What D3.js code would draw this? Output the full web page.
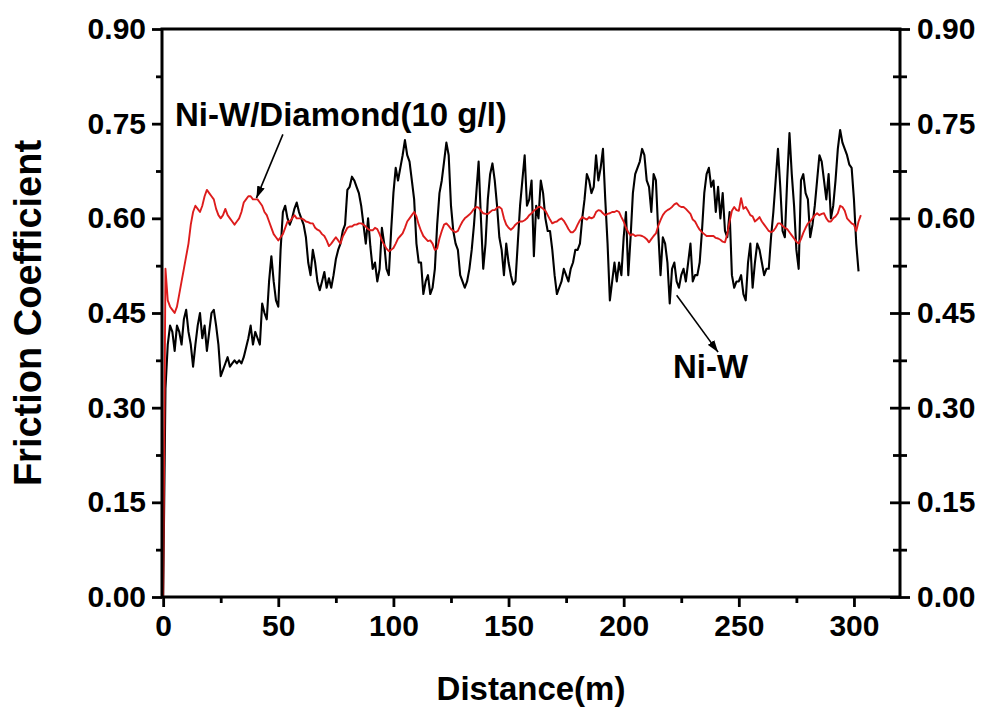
<!DOCTYPE html>
<html>
<head>
<meta charset="utf-8">
<script src="https://cdn.jsdelivr.net/npm/d3@7"></script>
<style>
  html, body { margin: 0; padding: 0; background: #fff; }
  svg { display: block; }
  text { font-family: "Liberation Sans", Arial, sans-serif; font-weight: bold; fill: #000; }
</style>
</head>
<body>
<svg id="chart" width="990" height="713"></svg>
<script>
// Sliding distance step (m) between successive friction readings
const stepMeters = 1;

// Friction coefficient of the plain Ni-W coating, one reading per metre from 0 m
const niW = [
  0.00, 0.33, 0.40, 0.43, 0.42, 0.39, 0.43, 0.42, 0.40, 0.44,
  0.455, 0.42, 0.40, 0.365, 0.40, 0.43, 0.45, 0.41, 0.43, 0.39,
  0.42, 0.45, 0.455, 0.43, 0.40, 0.35, 0.36, 0.37, 0.38, 0.365,
  0.37, 0.375, 0.37, 0.375, 0.37, 0.38, 0.395, 0.41, 0.43, 0.40,
  0.42, 0.41, 0.40, 0.465, 0.45, 0.44, 0.50, 0.54, 0.50, 0.47,
  0.46, 0.55, 0.61, 0.62, 0.60, 0.59, 0.60, 0.615, 0.625, 0.61,
  0.60, 0.59, 0.57, 0.53, 0.51, 0.55, 0.53, 0.50, 0.486, 0.50,
  0.515, 0.49, 0.505, 0.49, 0.51, 0.535, 0.55, 0.56, 0.58, 0.59,
  0.645, 0.65, 0.666, 0.66, 0.65, 0.64, 0.62, 0.59, 0.56, 0.60,
  0.555, 0.52, 0.53, 0.50, 0.52, 0.585, 0.56, 0.52, 0.51, 0.58,
  0.64, 0.68, 0.66, 0.68, 0.70, 0.724, 0.70, 0.69, 0.66, 0.63,
  0.56, 0.53, 0.53, 0.48, 0.50, 0.51, 0.48, 0.49, 0.52, 0.59,
  0.64, 0.66, 0.69, 0.72, 0.70, 0.62, 0.58, 0.56, 0.55, 0.51,
  0.50, 0.49, 0.50, 0.52, 0.55, 0.59, 0.64, 0.69, 0.60, 0.52,
  0.56, 0.63, 0.67, 0.687, 0.66, 0.62, 0.57, 0.55, 0.51, 0.56,
  0.53, 0.51, 0.495, 0.50, 0.56, 0.62, 0.66, 0.70, 0.62, 0.63,
  0.66, 0.54, 0.62, 0.60, 0.66, 0.64, 0.60, 0.58, 0.58, 0.55,
  0.51, 0.48, 0.49, 0.50, 0.52, 0.51, 0.50, 0.52, 0.53, 0.55,
  0.55, 0.56, 0.60, 0.63, 0.67, 0.66, 0.64, 0.65, 0.70, 0.66,
  0.68, 0.71, 0.63, 0.56, 0.47, 0.50, 0.53, 0.50, 0.53, 0.51,
  0.57, 0.61, 0.51, 0.57, 0.64, 0.67, 0.68, 0.69, 0.71, 0.70,
  0.66, 0.65, 0.61, 0.67, 0.66, 0.58, 0.51, 0.57, 0.56, 0.53,
  0.465, 0.52, 0.53, 0.50, 0.49, 0.51, 0.52, 0.50, 0.53, 0.56,
  0.50, 0.51, 0.51, 0.53, 0.58, 0.64, 0.67, 0.68, 0.65, 0.66,
  0.61, 0.65, 0.60, 0.64, 0.58, 0.57, 0.61, 0.51, 0.49, 0.50,
  0.50, 0.51, 0.48, 0.47, 0.53, 0.56, 0.49, 0.53, 0.56, 0.55,
  0.53, 0.51, 0.52, 0.52, 0.57, 0.61, 0.66, 0.71, 0.65, 0.58,
  0.57, 0.66, 0.735, 0.67, 0.62, 0.55, 0.52, 0.66, 0.67, 0.64,
  0.63, 0.57, 0.59, 0.62, 0.66, 0.70, 0.69, 0.66, 0.63, 0.67,
  0.60, 0.62, 0.66, 0.71, 0.74, 0.72, 0.71, 0.70, 0.685, 0.68,
  0.63, 0.56, 0.516
];

// Friction coefficient of the Ni-W/diamond composite (10 g/l), one reading per metre from 0 m
const niWDiamond = [
  0.00, 0.52, 0.47, 0.46, 0.455, 0.45, 0.46, 0.48, 0.50, 0.52,
  0.54, 0.56, 0.59, 0.61, 0.62, 0.615, 0.61, 0.62, 0.635, 0.645,
  0.64, 0.635, 0.63, 0.615, 0.605, 0.60, 0.605, 0.615, 0.605, 0.60,
  0.595, 0.59, 0.595, 0.60, 0.61, 0.625, 0.63, 0.635, 0.635, 0.63,
  0.63, 0.63, 0.625, 0.62, 0.61, 0.605, 0.595, 0.585, 0.575, 0.57,
  0.565, 0.57, 0.575, 0.585, 0.595, 0.595, 0.60, 0.605, 0.60, 0.60,
  0.60, 0.598, 0.595, 0.594, 0.592, 0.592, 0.585, 0.582, 0.58, 0.575,
  0.572, 0.565, 0.556, 0.56, 0.565, 0.57, 0.565, 0.56, 0.571, 0.578,
  0.585, 0.587, 0.587, 0.59, 0.59, 0.592, 0.592, 0.59, 0.587, 0.583,
  0.581, 0.581, 0.585, 0.583, 0.575, 0.565, 0.558, 0.552, 0.548, 0.55,
  0.553, 0.56, 0.568, 0.572, 0.576, 0.585, 0.595, 0.60, 0.605, 0.61,
  0.603, 0.59, 0.58, 0.572, 0.568, 0.564, 0.565, 0.56, 0.55, 0.552,
  0.568, 0.58, 0.59, 0.592, 0.588, 0.583, 0.58, 0.578, 0.58, 0.588,
  0.595, 0.60, 0.603, 0.606, 0.61, 0.615, 0.618, 0.617, 0.612, 0.608,
  0.607, 0.607, 0.61, 0.613, 0.613, 0.617, 0.618, 0.615, 0.60, 0.59,
  0.585, 0.582, 0.585, 0.59, 0.593, 0.595, 0.595, 0.597, 0.60, 0.605,
  0.608, 0.612, 0.615, 0.618, 0.618, 0.615, 0.612, 0.605, 0.598, 0.592,
  0.594, 0.595, 0.598, 0.60, 0.596, 0.59, 0.583, 0.578, 0.578, 0.582,
  0.59, 0.597, 0.602, 0.60, 0.598, 0.602, 0.60, 0.602, 0.61, 0.613,
  0.612, 0.608, 0.605, 0.607, 0.608, 0.61, 0.61, 0.612, 0.61, 0.602,
  0.595, 0.585, 0.578, 0.573, 0.575, 0.572, 0.573, 0.573, 0.572, 0.57,
  0.567, 0.562, 0.567, 0.572, 0.576, 0.588, 0.597, 0.605, 0.61, 0.613,
  0.615, 0.618, 0.622, 0.624, 0.62, 0.618, 0.618, 0.615, 0.611, 0.607,
  0.598, 0.595, 0.588, 0.582, 0.578, 0.575, 0.572, 0.572, 0.572, 0.572,
  0.569, 0.568, 0.566, 0.563, 0.562, 0.575, 0.595, 0.612, 0.618, 0.613,
  0.612, 0.632, 0.615, 0.618, 0.612, 0.605, 0.603, 0.595, 0.598, 0.602,
  0.595, 0.59, 0.585, 0.58, 0.578, 0.58, 0.585, 0.592, 0.592, 0.588,
  0.585, 0.583, 0.578, 0.573, 0.568, 0.563, 0.56, 0.567, 0.577, 0.585,
  0.592, 0.595, 0.60, 0.605, 0.608, 0.605, 0.607, 0.608, 0.60, 0.595,
  0.595, 0.60, 0.603, 0.608, 0.62, 0.618, 0.612, 0.60, 0.596, 0.592,
  0.59, 0.58, 0.595, 0.605
];

// Axis ticks
const xMajorTicks = [0, 50, 100, 150, 200, 250, 300];
const xMinorTicks = [25, 75, 125, 175, 225, 275];
const yMajorTicks = [0.00, 0.15, 0.30, 0.45, 0.60, 0.75, 0.90];
const yMinorTicks = [0.075, 0.225, 0.375, 0.525, 0.675, 0.825];

// Labels
const xTitle = "Distance(m)";
const yTitle = "Friction Coefficient";
const diamondLabel = "Ni-W/Diamond(10 g/l)";
const plainLabel = "Ni-W";

const svg = d3.select("#chart");
const plot = { left: 162, right: 900, top: 29, bottom: 597 };

const x = d3.scaleLinear().domain([-0.5, 320]).range([plot.left, plot.right]);
const y = d3.scaleLinear().domain([0, 0.9]).range([plot.bottom, plot.top]);

const fmt = d3.format(".2f");

// --- axes ---
function styleAxis(g) {
  g.select(".domain").remove();
  g.selectAll(".tick line").attr("stroke", "#000").attr("stroke-width", 2.8);
  g.selectAll(".tick text").attr("font-size", 30).attr("fill", "#000")
    .style("font-family", '"Liberation Sans", Arial, sans-serif').style("font-weight", "bold");
}

// left
svg.append("g").attr("transform", `translate(${plot.left},0)`)
  .call(d3.axisLeft(y).tickValues(yMajorTicks).tickFormat(fmt).tickSize(10).tickPadding(6))
  .call(styleAxis);
svg.append("g").attr("transform", `translate(${plot.left},0)`)
  .call(d3.axisLeft(y).tickValues(yMinorTicks).tickFormat("").tickSize(6))
  .call(styleAxis);

// right (ticks cross the axis line)
const rightMajor = svg.append("g").attr("transform", `translate(${plot.right},0)`)
  .call(d3.axisRight(y).tickValues(yMajorTicks).tickFormat(fmt).tickSize(10).tickPadding(7))
  .call(styleAxis);
rightMajor.selectAll(".tick line").attr("x1", -10);
const rightMinor = svg.append("g").attr("transform", `translate(${plot.right},0)`)
  .call(d3.axisRight(y).tickValues(yMinorTicks).tickFormat("").tickSize(7))
  .call(styleAxis);
rightMinor.selectAll(".tick line").attr("x1", -7);

// bottom
svg.append("g").attr("transform", `translate(0,${plot.bottom})`)
  .call(d3.axisBottom(x).tickValues(xMajorTicks).tickFormat(d3.format("d")).tickSize(10).tickPadding(8))
  .call(styleAxis);
svg.append("g").attr("transform", `translate(0,${plot.bottom})`)
  .call(d3.axisBottom(x).tickValues(xMinorTicks).tickFormat("").tickSize(6))
  .call(styleAxis);

// --- data lines ---
const line = d3.line()
  .x((d, i) => x(i * stepMeters))
  .y(d => y(d));

svg.append("path").datum(niW)
  .attr("d", line).attr("fill", "none")
  .attr("stroke", "#000").attr("stroke-width", 2.1).attr("stroke-linejoin", "round");

svg.append("path").datum(niWDiamond)
  .attr("d", line).attr("fill", "none")
  .attr("stroke", "#dd1c1c").attr("stroke-width", 1.9).attr("stroke-linejoin", "round");

// --- frame ---
svg.append("rect")
  .attr("x", plot.left).attr("y", plot.top)
  .attr("width", plot.right - plot.left).attr("height", plot.bottom - plot.top)
  .attr("fill", "none").attr("stroke", "#000").attr("stroke-width", 3);

// --- titles ---
svg.append("text")
  .attr("x", (plot.left + plot.right) / 2).attr("y", 700)
  .attr("text-anchor", "middle").attr("font-size", 33)
  .text(xTitle);

svg.append("text")
  .attr("transform", `translate(41,313) rotate(-90)`)
  .attr("text-anchor", "middle").attr("font-size", 38)
  .text(yTitle);

// --- annotations with arrows ---
const defs = svg.append("defs");
defs.append("marker")
  .attr("id", "arrowHead").attr("viewBox", "0 0 12 8")
  .attr("refX", 12).attr("refY", 4)
  .attr("markerWidth", 12).attr("markerHeight", 8)
  .attr("markerUnits", "userSpaceOnUse").attr("orient", "auto")
  .append("path").attr("d", "M0,0 L12,4 L0,8 Z").attr("fill", "#000");

svg.append("text").attr("x", 175).attr("y", 126).attr("font-size", 33).text(diamondLabel);
svg.append("line")
  .attr("x1", x(52)).attr("y1", y(0.733))
  .attr("x2", x(40.5)).attr("y2", y(0.632))
  .attr("stroke", "#000").attr("stroke-width", 1.6)
  .attr("marker-end", "url(#arrowHead)");

svg.append("text").attr("x", 673).attr("y", 378).attr("font-size", 33).text(plainLabel);
svg.append("line")
  .attr("x1", x(223)).attr("y1", y(0.478))
  .attr("x2", x(241)).attr("y2", y(0.388))
  .attr("stroke", "#000").attr("stroke-width", 1.6)
  .attr("marker-end", "url(#arrowHead)");
</script>
</body>
</html>
